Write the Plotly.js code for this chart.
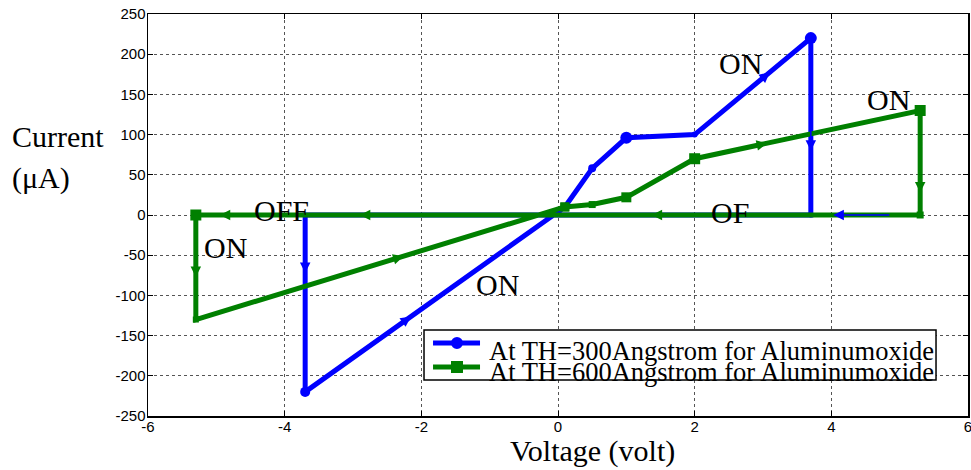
<!DOCTYPE html>
<html>
<head>
<meta charset="utf-8">
<script src="https://cdn.plot.ly/plotly-3.0.1.min.js"></script>
<style>
  html, body { margin: 0; padding: 0; background: #ffffff; }
  #chart { width: 971px; height: 470px; }
</style>
</head>
<body>
<div id="chart"></div>
<script>
// I-V switching loops for two aluminium-oxide thicknesses
const voltage300 = [0.1, 0.5, 1, 2, 3.7, 3.7, -3.7, -3.7, 0.1];
const current300 = [10, 58, 96, 100, 220, 0, 0, -220, 10];
const voltage600 = [0.1, 0.5, 1, 2, 5.3, 5.3, -5.3, -5.3, 0.1];
const current600 = [10, 13, 22, 70, 130, 0, 0, -130, 10];

const seriesNames = [
  'At TH=300Angstrom for Aluminumoxide',
  'At TH=600Angstrom for Aluminumoxide'
];

// direction arrows along the loops: [tipV, tipI, tailV, tailI]
const arrows300 = [
  [3.1, 177.6, 2.7, 149.4],
  [3.7, 80, 3.7, 110],
  [-2.15, -126.2, -2.6, -153.4],
  [-3.7, -72, -3.7, -40],
  [4.03, 0, 4.87, 0]
];
const arrows600 = [
  [1.37, 0, 1.8, 0],
  [-2.9, 0, -2.5, 0],
  [-4.95, 0, -4.55, 0],
  [5.3, 28, 5.3, 55],
  [3.06, 89.3, 2.6, 80.9],
  [-5.3, -77, -5.3, -50],
  [-2.26, -51.2, -2.7, -62.6]
];

// state labels: [text, V, I]
const stateLabels = [
  ['ON', 2.67, 189],
  ['ON', 4.83, 144],
  ['OFF', -4.05, 6],
  ['OF', 2.52, 3],
  ['ON', -4.86, -40],
  ['ON', -0.89, -87]
];

const xTicks = [-6, -4, -2, 0, 2, 4, 6];
const yTicks = [-250, -200, -150, -100, -50, 0, 50, 100, 150, 200, 250];

// marker sizes per vertex
const markerSize300 = [0, 8, 12, 6, 12, 5, 4, 10, 0];
const markerSize600 = [9, 7, 10, 11, 11, 7, 11, 6, 9];

const BLUE = '#0000ff';
const GREEN = '#008000';
const SERIF = '"Liberation Serif", "Times New Roman", serif';
const SANS = '"Liberation Sans", Arial, sans-serif';

const traces = [
  {
    x: voltage300, y: current300, type: 'scatter', mode: 'lines+markers',
    name: seriesNames[0],
    line: { color: BLUE, width: 5 },
    marker: { symbol: 'circle', color: BLUE, size: markerSize300, opacity: 1,
              line: { width: 0, color: BLUE } },
    showlegend: false, hoverinfo: 'x+y'
  },
  {
    x: voltage600, y: current600, type: 'scatter', mode: 'lines+markers',
    name: seriesNames[1],
    line: { color: GREEN, width: 5 },
    marker: { symbol: 'square', color: GREEN, size: markerSize600, opacity: 1,
              line: { width: 0, color: GREEN } },
    showlegend: false, hoverinfo: 'x+y'
  }
];

function arrowAnnots(list, color) {
  return list.map(a => ({
    x: a[0], y: a[1], ax: a[2], ay: a[3],
    xref: 'x', yref: 'y', axref: 'x', ayref: 'y',
    text: '', showarrow: true,
    arrowhead: 2, arrowsize: 1.4, arrowwidth: 1.5, arrowcolor: color
  }));
}

const annotations = [].concat(
  arrowAnnots(arrows300, BLUE),
  arrowAnnots(arrows600, GREEN),
  stateLabels.map(s => ({
    text: s[0], x: s[1], y: s[2], xref: 'x', yref: 'y',
    showarrow: false, xanchor: 'center', yanchor: 'middle',
    font: { family: SERIF, size: 30, color: '#000' }
  }))
);

// axis titles
annotations.push(
  { text: 'Voltage (volt)', xref: 'paper', yref: 'paper', x: 0.5415, y: -0.086,
    xanchor: 'center', yanchor: 'middle', showarrow: false,
    font: { family: SERIF, size: 30, color: '#000' } },
  { text: 'Current', xref: 'paper', yref: 'paper', x: -0.1683, y: 0.6965,
    xanchor: 'left', yanchor: 'middle', showarrow: false,
    font: { family: SERIF, size: 30, color: '#000' } },
  { text: '(μA)', xref: 'paper', yref: 'paper', x: -0.1683, y: 0.592,
    xanchor: 'left', yanchor: 'middle', showarrow: false,
    font: { family: SERIF, size: 30, color: '#000' } }
);

// legend box
const legX0 = 0.3366, legX1 = 0.961, legY0 = 0.0896, legY1 = 0.2139;
const rowY = [0.1816, 0.1219];
const sampleX0 = 0.3476, sampleX1 = 0.4049, sampleMid = 0.3768;
const shapes = [
  { type: 'rect', xref: 'paper', yref: 'paper', x0: legX0, x1: legX1, y0: legY0, y1: legY1,
    fillcolor: '#ffffff', line: { color: '#000', width: 1.5 }, layer: 'above' },
  { type: 'line', xref: 'paper', yref: 'paper', x0: sampleX0, x1: sampleX1, y0: rowY[0], y1: rowY[0],
    line: { color: BLUE, width: 5 }, layer: 'above' },
  { type: 'circle', xref: 'paper', yref: 'paper', xsizemode: 'pixel', ysizemode: 'pixel',
    xanchor: sampleMid, yanchor: rowY[0], x0: -6, x1: 6, y0: -6, y1: 6,
    fillcolor: BLUE, line: { color: BLUE, width: 0 }, layer: 'above' },
  { type: 'line', xref: 'paper', yref: 'paper', x0: sampleX0, x1: sampleX1, y0: rowY[1], y1: rowY[1],
    line: { color: GREEN, width: 5 }, layer: 'above' },
  { type: 'rect', xref: 'paper', yref: 'paper', xsizemode: 'pixel', ysizemode: 'pixel',
    xanchor: sampleMid, yanchor: rowY[1], x0: -6, x1: 6, y0: -6, y1: 6,
    fillcolor: GREEN, line: { color: GREEN, width: 0 }, layer: 'above' }
];
seriesNames.forEach((n, i) => {
  annotations.push({
    text: n, xref: 'paper', yref: 'paper', x: 0.4134, y: [0.1617, 0.1095][i],
    xanchor: 'left', yanchor: 'middle', showarrow: false,
    font: { family: SERIF, size: 26.5, color: '#000' }
  });
});

const axisCommon = {
  showline: true, linecolor: '#000', linewidth: 1.5, mirror: 'ticks',
  ticks: 'inside', ticklen: 5, tickcolor: '#000', tickwidth: 1,
  showgrid: true, gridcolor: '#555', griddash: 'dot', gridwidth: 1,
  zeroline: false, ticklabeloverflow: 'allow',
  tickfont: { family: SANS, size: 15, color: '#000' }
};

const layout = {
  width: 971, height: 470,
  margin: { l: 148, r: 3, t: 14, b: 54 },
  paper_bgcolor: '#fff', plot_bgcolor: '#fff',
  showlegend: false,
  xaxis: Object.assign({}, axisCommon, {
    range: [-6, 6], tickvals: xTicks, ticktext: xTicks.map(String),
    ticklabelstandoff: -4
  }),
  yaxis: Object.assign({}, axisCommon, {
    range: [-250, 250], tickvals: yTicks, ticktext: yTicks.map(String),
    ticklabelstandoff: -2
  }),
  annotations: annotations,
  shapes: shapes
};

Plotly.newPlot('chart', traces, layout, { staticPlot: true, displayModeBar: false });
</script>
</body>
</html>
